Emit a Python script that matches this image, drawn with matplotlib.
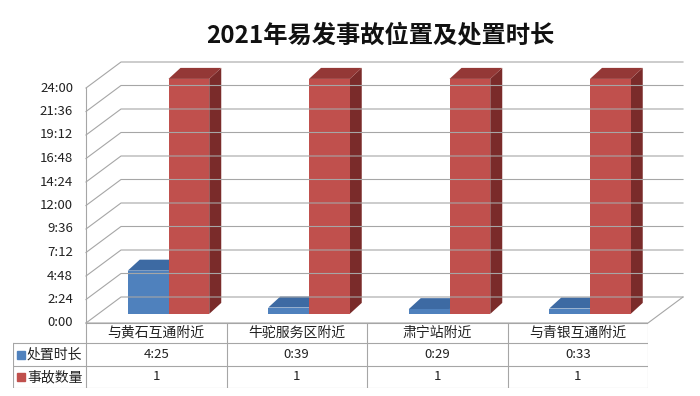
import matplotlib
matplotlib.use('Agg')
import matplotlib.pyplot as plt
from matplotlib.patches import Polygon

plt.rcParams['font.family'] = ['Noto Sans CJK SC', 'DejaVu Sans']

# data
categories = ['与黄石互通附近', '牛驼服务区附近', '肃宁站附近', '与青银互通附近']
duration = ['4:25', '0:39', '0:29', '0:33']
accidents = [1, 1, 1, 1]
series_names = ['处置时长', '事故数量']
tick_labels = ['0:00', '2:24', '4:48', '7:12', '9:36', '12:00',
               '14:24', '16:48', '19:12', '21:36', '24:00']

duration_h = [int(h) + int(m) / 60 for h, m in (d.split(':') for d in duration)]
accidents_h = [c * 24 for c in accidents]  # excel time axis: 1 = one day
ticks = [int(t.split(':')[0]) + int(t.split(':')[1]) / 60 for t in tick_labels]

BLUE = ('#4f81bd', '#3d6aa3', '#2f5689')
RED = ('#c0504d', '#943836', '#7a2b2a')
GRID = '#a6a6a6'

W, H = 700, 396
fig = plt.figure(figsize=(W / 100, H / 100), dpi=100)

# front plane of the 3d box
left, right, floor, top = 86, 648, 323, 88
ax = fig.add_axes([left / W, (H - floor) / H, (right - left) / W, (floor - top) / H])
ax.set_xlim(0, len(categories))
ax.set_ylim(0, 24)
ax.axis('off')

px_x = (right - left) / len(categories)
px_y = (floor - top) / 24
dx, dy = 35 / px_x, 26 / px_y          # full depth of the box
bx, by = 0.35 * dx, 0.35 * dy          # where the bars sit
bdx, bdy = 12 / px_x, 11 / px_y        # bar depth
n = len(categories)

# walls and gridlines
for v in ticks:
    ax.plot([0, dx, n + dx], [v, v + dy, v + dy], color=GRID, lw=0.8, clip_on=False)
ax.plot([0, 0], [0, 24], color=GRID, lw=0.8, clip_on=False)
ax.plot([0, n, n + dx], [0, 0, dy], color=GRID, lw=0.8, clip_on=False)

for v, lab in zip(ticks, tick_labels):
    ax.text(-13 / px_x, v, lab, ha='right', va='center', fontsize=9.5, color='#222222')


def bar3d(x0, w, h, colors):
    x0 = x0 + bx
    front = [(x0, by), (x0 + w, by), (x0 + w, by + h), (x0, by + h)]
    topf = [(x0, by + h), (x0 + w, by + h), (x0 + w + bdx, by + h + bdy), (x0 + bdx, by + h + bdy)]
    side = [(x0 + w, by), (x0 + w + bdx, by + bdy), (x0 + w + bdx, by + h + bdy), (x0 + w, by + h)]
    for pts, c in ((side, colors[2]), (topf, colors[1]), (front, colors[0])):
        ax.add_patch(Polygon(pts, closed=True, facecolor=c, edgecolor='none', clip_on=False))


bw = 0.29
for i in range(n):
    bar3d(i + 0.5 - bw, bw, duration_h[i], BLUE)
    bar3d(i + 0.5, bw, accidents_h[i], RED)

# data table
leg_w = 73 / px_x
tab = fig.add_axes([13 / W, (H - 388) / H, (right - 13) / W, (388 - floor) / H])
tab.set_xlim(-leg_w, n)
tab.set_ylim(65, 0)
tab.axis('off')
rows = [0, 20, 43, 65]
tab.plot([0, n], [rows[0]] * 2, color=GRID, lw=0.8)
for r in rows[1:]:
    tab.plot([-leg_w, n], [r, r], color=GRID, lw=0.8)
tab.plot([-leg_w, -leg_w], [rows[1], rows[3]], color=GRID, lw=0.8)
for i in range(n + 1):
    tab.plot([i, i], [rows[0], rows[3]], color=GRID, lw=0.8)

fs = 10
for i, c in enumerate(categories):
    tab.text(i + 0.5, (rows[0] + rows[1]) / 2, c, ha='center', va='center', fontsize=fs, color='#222222')
    tab.text(i + 0.5, (rows[1] + rows[2]) / 2, duration[i], ha='center', va='center', fontsize=fs - 0.5, color='#222222')
    tab.text(i + 0.5, (rows[2] + rows[3]) / 2, str(accidents[i]), ha='center', va='center', fontsize=fs - 0.5, color='#222222')

for k, (name, col) in enumerate(zip(series_names, (BLUE[0], RED[0]))):
    yc = (rows[k + 1] + rows[k + 2]) / 2
    tab.plot([-leg_w + 8 / px_x], [yc], marker='s', markersize=5.5, color=col, linestyle='none')
    tab.text(-leg_w + 14 / px_x, yc, name, ha='left', va='center', fontsize=fs, color='#222222')

fig.text(380 / W, 1 - 35 / H, '2021年易发事故位置及处置时长', ha='center', va='center',
         fontsize=17.5, fontweight='bold', color='#111111')

fig.savefig('out.png', dpi=100)
